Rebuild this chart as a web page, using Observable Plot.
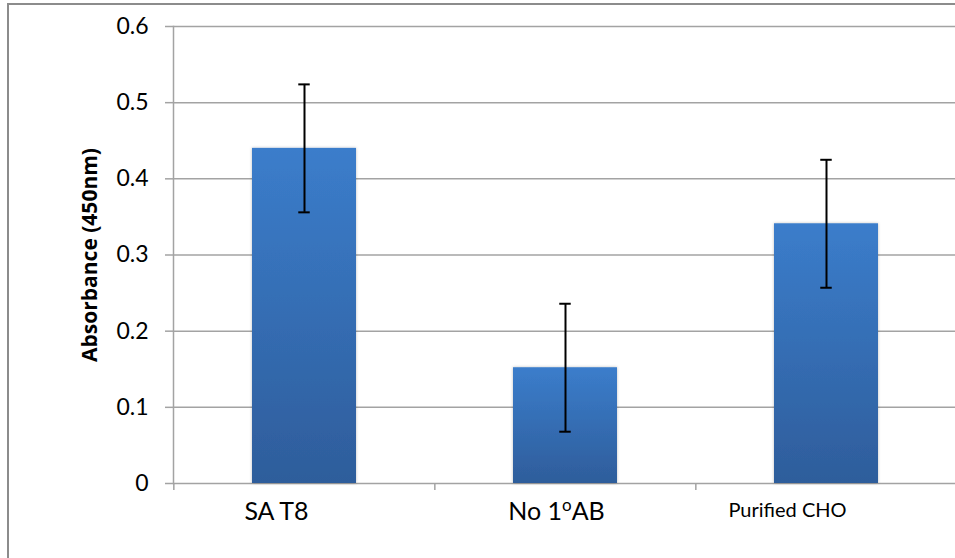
<!DOCTYPE html>
<html>
<head>
<meta charset="utf-8">
<script src="https://cdn.jsdelivr.net/npm/d3@7"></script>
<script src="https://cdn.jsdelivr.net/npm/@observablehq/plot@0.6"></script>
<style>
  html, body { margin: 0; padding: 0; background: white; overflow: hidden; }
  #wrap { position: relative; width: 955px; height: 558px; overflow: hidden; }
  #border { position: absolute; left: 7px; top: 3px; width: 2000px; height: 2000px;
            border: 2px solid #8c8c8c; pointer-events: none; }
</style>
</head>
<body>
<div id="wrap"><div id="border"></div></div>
<script>
// ---- data ----
const categories = ["SA T8", "No 1oAB", "Purified CHO"];
const values = [0.44, 0.152, 0.341];
const errors = [0.084, 0.084, 0.084];
const yTicks = [0, 0.1, 0.2, 0.3, 0.4, 0.5, 0.6];
const yLabel = "Absorbance (450nm)";

// ---- style ----
const W = 955, H = 558;
const M = {left: 173, right: -2, top: 26, bottom: 75};
const labelSize = [25, 25, 20];
const labelDx = [-28, -9, -39];
const gridColor = "#a3a3a3";

const data = categories.map((c, i) => ({cat: c, value: values[i], err: errors[i]}));
const step = (W - M.right - M.left) / categories.length;
const bandW = step * 0.4;
const capInset = (bandW - 12) / 2;

const defs = () => {
  const g = d3.create("svg:defs");
  const lg = g.append("linearGradient").attr("id", "barGrad").attr("x1", 0).attr("y1", 0).attr("x2", 0).attr("y2", 1);
  lg.append("stop").attr("offset", "0%").attr("stop-color", "#3b7dcb");
  lg.append("stop").attr("offset", "100%").attr("stop-color", "#2e5d9b");
  const f = g.append("filter").attr("id", "barShadow").attr("x", "-10%").attr("y", "-10%").attr("width", "120%").attr("height", "120%");
  f.append("feDropShadow").attr("dx", 0).attr("dy", 0).attr("stdDeviation", 1.5).attr("flood-color", "#000").attr("flood-opacity", 0.25);
  return g.node();
};

const plot = Plot.plot({
  width: W, height: H,
  marginLeft: M.left, marginRight: M.right, marginTop: M.top, marginBottom: M.bottom,
  style: {fontFamily: "Lato, 'Open Sans', sans-serif", color: "black", background: "transparent", overflow: "visible"},
  x: {domain: categories, paddingInner: 0.6, paddingOuter: 0.3, axis: null},
  y: {domain: [0, 0.6], axis: null},
  marks: [
    defs,
    Plot.ruleY(yTicks, {stroke: gridColor, strokeWidth: 1.5}),
    Plot.frame({anchor: "left", stroke: gridColor, strokeWidth: 1.5}),
    Plot.axisY({ticks: yTicks, tickSize: 8, tickPadding: 17, stroke: gridColor, strokeWidth: 1.5,
      fontSize: 23, label: null, tickFormat: d => d === 0 ? "0" : d.toFixed(1)}),
    Plot.axisX({tickSize: 7, tickFormat: () => "", dx: -step / 2, stroke: gridColor, strokeWidth: 1.5, label: null}),
    Plot.barY(data, {x: "cat", y: "value", fill: "url(#barGrad)"}),
    Plot.ruleX(data, {x: "cat", y1: d => d.value - d.err, y2: d => d.value + d.err, stroke: "black", strokeWidth: 2}),
    Plot.tickY(data, {x: "cat", y: d => d.value + d.err, insetLeft: capInset, insetRight: capInset, stroke: "black", strokeWidth: 2}),
    Plot.tickY(data, {x: "cat", y: d => d.value - d.err, insetLeft: capInset, insetRight: capInset, stroke: "black", strokeWidth: 2}),
    ...categories.map((c, i) => Plot.text([c], {x: d => d, frameAnchor: "bottom", lineAnchor: "top",
      dy: 19, dx: labelDx[i], fontSize: labelSize[i], fill: "black"})),
    Plot.text([yLabel], {frameAnchor: "left", textAnchor: "middle", rotate: -90, dx: -83, fontSize: 21,
      fontWeight: "bold", fontFamily: "'Open Sans', sans-serif", fill: "black"})
  ]
});

// bar shadow
plot.querySelectorAll('g[aria-label="bar"] rect').forEach(r => r.setAttribute("filter", "url(#barShadow)"));
// superscript "o" in "No 1oAB"
plot.querySelectorAll("text").forEach(t => {
  if (t.textContent === "No 1oAB") {
    t.textContent = "";
    const ns = "http://www.w3.org/2000/svg";
    const a = document.createElementNS(ns, "tspan"); a.textContent = "No 1";
    const b = document.createElementNS(ns, "tspan"); b.textContent = "o";
    b.setAttribute("font-size", "17"); b.setAttribute("dy", "-9");
    const c = document.createElementNS(ns, "tspan"); c.textContent = "AB"; c.setAttribute("dy", "9");
    t.append(a, b, c);
  }
});

document.getElementById("wrap").prepend(plot);
</script>
</body>
</html>
